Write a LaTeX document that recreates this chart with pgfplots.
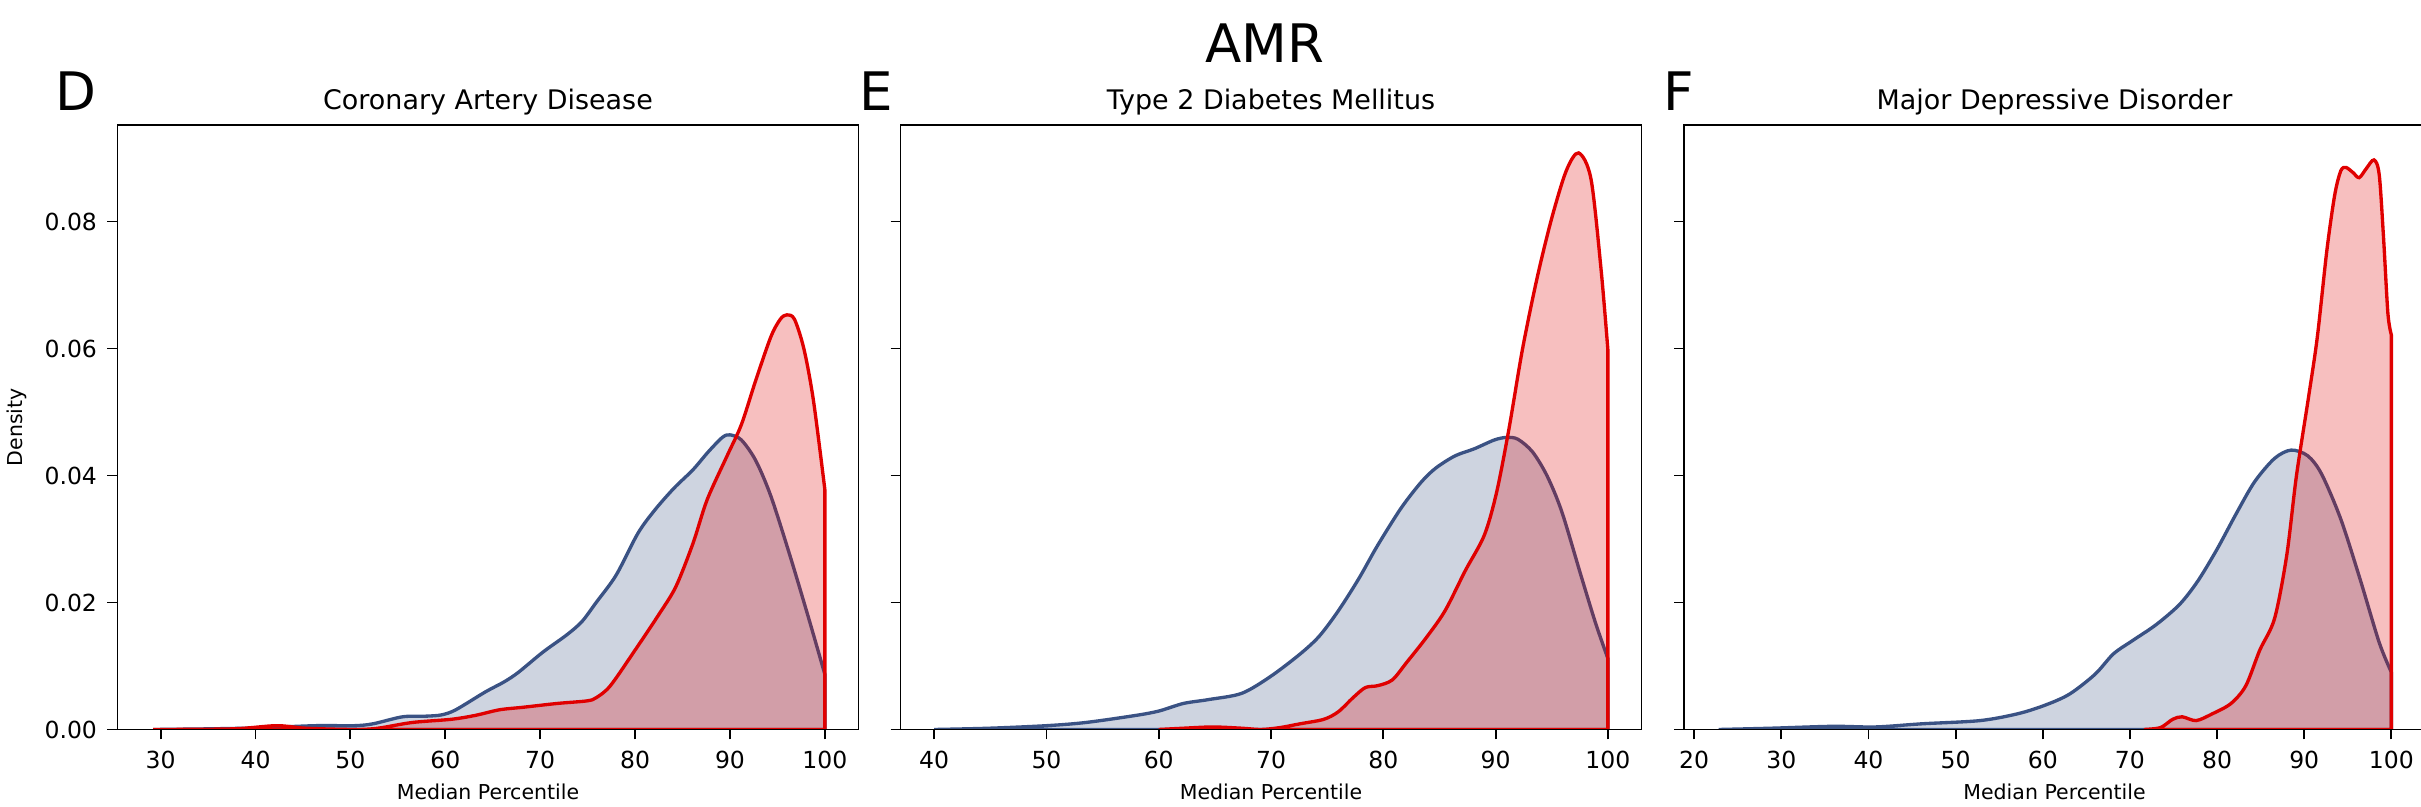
\documentclass[border=0pt]{standalone}
\usepackage{fontspec}
\setmainfont{DejaVu Sans}
\usepackage{pgfplots}
\pgfplotsset{compat=1.18}
\definecolor{bl}{HTML}{3A5284}
\definecolor{rd}{HTML}{E00000}
\pgfplotsset{
  kde/.style={
    scale only axis, width=266.76pt, height=217.62pt,
    anchor=south west,
    ymin=0, ymax=0.0952,
    axis on top,
    axis line style={line width=0.68pt, black},
    tick style={line width=0.68pt, black},
    major tick length=3.6pt,
    tick align=outside,
    xtick pos=bottom, ytick pos=left,
    xtick distance=10,
    ytick={0,0.02,0.04,0.06,0.08},
    scaled y ticks=false,
    /pgf/number format/assume math mode=true,
    tick label style={font=\fontsize{8.46}{10}\selectfont},
    yticklabel={\pgfmathprintnumber[fixed,fixed zerofill,precision=2]{\tick}},
    xticklabel style={inner sep=0pt, anchor=north, yshift=-4.1pt},
    yticklabel style={inner sep=0pt, anchor=east, xshift=-3.6pt},
    xlabel={Median Percentile},
    every axis x label/.style={at={(0.5,0)}, anchor=base, yshift=-25.38pt, font=\fontsize{7.38}{9}\selectfont},
    every axis title/.style={at={(0.5,1)}, anchor=base, yshift=5.65pt, font=\fontsize{9.7}{12}\selectfont},
    blue/.style={draw=bl, line width=1.2pt, fill=bl, fill opacity=0.25, smooth, tension=0.5},
    red/.style={draw=rd, line width=1.2pt, fill=rd, fill opacity=0.25, smooth, tension=0.5},
  }
}
\begin{document}
\begin{tikzpicture}
% Panel D
\begin{axis}[kde, at={(42.3pt,27.9pt)}, xmin=25.45, xmax=103.55, xtick={30,40,...,100},
  title={Coronary Artery Disease}]
\addplot[blue] coordinates {(29.2,0)(35,0.0001)(40.2,0.00025)(46.3,0.0006)(50.4,0.0006)(52.4,0.0009)(55.5,0.002)(58,0.0021)(59.6,0.0023)(61.1,0.0031)(64.2,0.0059)(66.2,0.0075)(67.7,0.009)(70.3,0.0122)(72.8,0.0149)(74.4,0.017)(75.9,0.020)(78,0.0243)(80.3,0.0309)(82.1,0.0346)(84.1,0.038)(86.1,0.0409)(87.7,0.0437)(89.2,0.046)(90,0.0464)(91.2,0.0456)(92.7,0.0424)(94.3,0.0368)(96.3,0.0275)(98.3,0.0175)(100,0.0087)} \closedcycle;
\addplot[red] coordinates {(29.2,0)(37.6,0.0001)(42.2,0.0006)(45.3,0.0002)(50.4,0)(52.9,0.0002)(56.5,0.0011)(60.6,0.0016)(63.1,0.0022)(65.7,0.0031)(68.2,0.0035)(71.8,0.0041)(74.9,0.0045)(75.9,0.005)(77.4,0.0069)(80,0.0125)(82.5,0.0181)(84.3,0.0225)(86.1,0.0293)(87.6,0.0362)(89.7,0.0431)(91.2,0.048)(92.7,0.0549)(94.3,0.0618)(95.3,0.0646)(96,0.0653)(96.8,0.0646)(97.8,0.0599)(98.8,0.0518)(100,0.0378)} \closedcycle;
\end{axis}
% Panel E
\begin{axis}[kde, at={(324.18pt,27.9pt)}, xmin=37, xmax=103, xtick={40,50,...,100}, yticklabels={},
  title={Type 2 Diabetes Mellitus}]
\addplot[blue] coordinates {(40,0)(44.9,0.0002)(50,0.0006)(53.5,0.0011)(57.9,0.0022)(60,0.0029)(62.2,0.0041)(64.4,0.0047)(67.4,0.0057)(70,0.0084)(72.6,0.0119)(74.3,0.0147)(76,0.0187)(77.8,0.0237)(79.5,0.029)(81.6,0.0349)(83.4,0.039)(84.7,0.0412)(86.4,0.0431)(88.1,0.0442)(89.9,0.0456)(91,0.046)(92,0.0457)(93.3,0.0437)(94.6,0.0399)(95.9,0.0343)(97.6,0.0243)(98.9,0.0168)(100,0.0112)} \closedcycle;
\addplot[red] coordinates {(60,0)(62.2,0.0002)(64.8,0.0004)(67.4,0.0002)(69.1,0)(70.8,0.0003)(72.6,0.0009)(74.7,0.0016)(76,0.0028)(77.3,0.005)(78.4,0.0066)(79.5,0.0069)(80.8,0.0078)(82.1,0.0106)(83.8,0.0144)(85.5,0.0187)(87.3,0.025)(89,0.0306)(90.1,0.0374)(91.2,0.0474)(92.4,0.0599)(93.7,0.0711)(95,0.0805)(96.3,0.088)(97.4,0.0908)(98.5,0.0867)(99.4,0.0724)(100,0.0599)} \closedcycle;
\end{axis}
% Panel F
\begin{axis}[kde, at={(606.24pt,27.9pt)}, xmin=18.84, xmax=103.86, xtick={20,30,...,100}, yticklabels={},
  title={Major Depressive Disorder}]
\addplot[blue] coordinates {(22.8,0)(28.8,0.0002)(35.9,0.0005)(40.8,0.0004)(46.2,0.0009)(52.8,0.0014)(57.2,0.0025)(60.4,0.0039)(63.1,0.0056)(66,0.0087)(68.1,0.0119)(70.3,0.014)(73,0.0165)(75.7,0.0197)(77.8,0.0234)(80,0.0284)(82.2,0.034)(84.3,0.039)(86.6,0.0427)(88.5,0.044)(90.4,0.0431)(92,0.0402)(94.2,0.0331)(96.4,0.0237)(98.6,0.0137)(100,0.009)} \closedcycle;
\addplot[red] coordinates {(71.6,0)(73.5,0.0003)(74.9,0.0016)(76,0.002)(77.6,0.0014)(79.5,0.0025)(81.6,0.0041)(83.3,0.0069)(84.9,0.0125)(86.6,0.0175)(88,0.0275)(89.1,0.0399)(90.5,0.0524)(91.5,0.0618)(92.6,0.0755)(93.5,0.0842)(94.2,0.088)(94.8,0.0885)(95.6,0.0877)(96.3,0.0869)(97.1,0.0883)(98,0.0897)(98.6,0.0874)(99.1,0.0774)(99.6,0.0655)(100,0.0621)} \closedcycle;
\end{axis}
\node[anchor=base, inner sep=0pt, font=\fontsize{19.1}{22}\selectfont] at (455.4pt,267.95pt) {AMR};
\node[anchor=base west, inner sep=0pt, font=\fontsize{19.1}{22}\selectfont] at (19.8pt,250.9pt) {D};
\node[anchor=base west, inner sep=0pt, font=\fontsize{19.1}{22}\selectfont] at (309.2pt,250.9pt) {E};
\node[anchor=base west, inner sep=0pt, font=\fontsize{19.1}{22}\selectfont] at (598.7pt,250.9pt) {F};
\node[rotate=90, anchor=center, inner sep=0pt, font=\fontsize{7.38}{9}\selectfont] at (5.94pt,136.71pt) {Density};
\pgfresetboundingbox
\useasboundingbox (0,0) rectangle (871.56pt,290.52pt);
\end{tikzpicture}
\end{document}
